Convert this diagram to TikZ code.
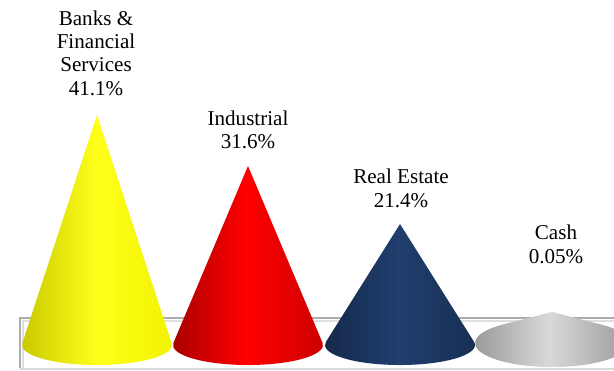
\documentclass[tikz,border=0pt]{standalone}
\usepackage{fontspec}
\setmainfont{Liberation Serif}
\definecolor{navycone}{RGB}{32,62,110}
\tikzset{
  yellowcone/.style={left color=yellow!78!black,right color=yellow!95!black,middle color=yellow!90!white},
  redcone/.style={left color=red!65!black,right color=red!80!black,middle color=red},
  bluecone/.style={left color=navycone!65!black,right color=navycone!75!black,middle color=navycone},
  graycone/.style={left color=gray!85,right color=gray!80,middle color=gray!30},
  conelabel/.style={align=center,font=\fontsize{12}{13.3}\selectfont,inner sep=0pt}
}
\begin{document}
\begin{tikzpicture}[x=0.02cm,y=0.02cm]
\useasboundingbox (0,0) rectangle (614,370);
% frame behind the cones
\draw[gray!65,line width=1.2pt] (20,2) -- (20,52) -- (620,52);
\draw[gray!25,line width=0.8pt] (23,2) -- (23,49) -- (620,49);
\draw[gray!30,line width=0.8pt] (20,1) -- (620,1);
% cones, right to left
\foreach \cx/\cy/\rx/\ry/\ay/\sty in {552/27/77/24/58/graycone,400/25/75/20/146/bluecone,248/25/75/20/204/redcone,97/25/75/20/255/yellowcone}{
  \pgfmathsetmacro{\t}{asin(\ry/(\ay-\cy))}
  \shade[\sty] (\cx,\ay) -- ({\cx+\rx*cos(180-\t)},{\cy+\ry*sin(180-\t)})
    arc[start angle=180-\t,end angle=360+\t,x radius=\rx,y radius=\ry] -- cycle;
}
% labels
\node[conelabel] (banks) at (96,317) {Banks \&\\Financial\\Services\\41.1\%};
\node[conelabel] (industrial) at (248,240) {Industrial\\31.6\%};
\node[conelabel] (realestate) at (401,181.5) {Real Estate\\21.4\%};
\node[conelabel] (cash) at (556,125.5) {Cash\\0.05\%};
\end{tikzpicture}
\end{document}
